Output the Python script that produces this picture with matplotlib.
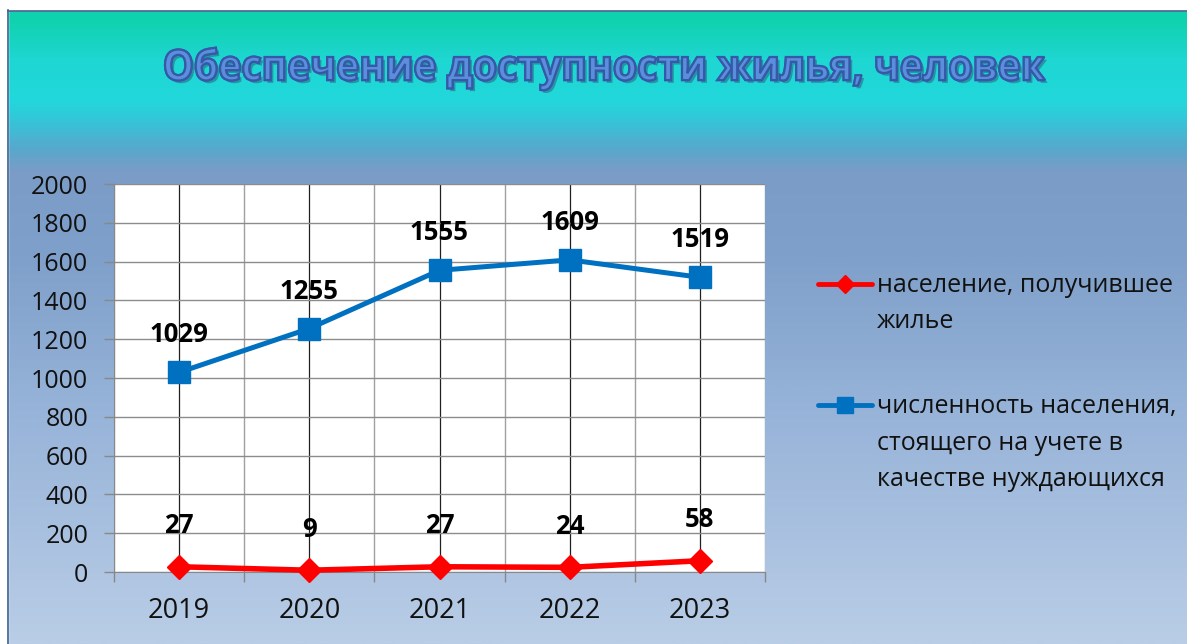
import numpy as np
import matplotlib
matplotlib.use("Agg")
import matplotlib.pyplot as plt
import matplotlib.patheffects as pe
from matplotlib.colors import LinearSegmentedColormap
from matplotlib.lines import Line2D
from matplotlib.textpath import TextPath
from matplotlib.patches import PathPatch
from matplotlib.font_manager import FontProperties
from matplotlib.transforms import Affine2D, IdentityTransform

plt.rcParams['font.family'] = ['Open Sans', 'DejaVu Sans']

years = ['2019', '2020', '2021', '2022', '2023']
received = [27, 9, 27, 24, 58]
waiting = [1029, 1255, 1555, 1609, 1519]
label_received = 'население, получившее\nжилье'
label_waiting = 'численность населения,\nстоящего на учете в\nкачестве нуждающихся'
title = 'Обеспечение доступности жилья, человек'

W, H = 1187, 644
fig = plt.figure(figsize=(W / 100, H / 100), dpi=100)

# background gradient
bg = fig.add_axes([0, 0, 1, 1])
bg.set_axis_off()
stops = [(0.0, '#0fd0ac'), (0.03, '#10d2ae'), (0.09, '#1ed6d2'), (0.155, '#22d8dc'),
         (0.19, '#38c2d8'), (0.23, '#58a8cc'), (0.265, '#7a9cc6'), (0.40, '#7fa0ca'),
         (0.65, '#98b4d9'), (1.0, '#b9cde6')]
cmap = LinearSegmentedColormap.from_list('bg', stops)
grad = np.linspace(0, 1, 800).reshape(-1, 1)
bg.imshow(grad, aspect='auto', cmap=cmap, extent=[0, 1, 0, 1], origin='upper')
bg.set_xlim(0, 1)
bg.set_ylim(0, 1)
bg.add_patch(plt.Rectangle((0, 1 - 10 / H), 1, 10 / H, color='white', zorder=3))
bg.add_patch(plt.Rectangle((0, 0), 8 / W, 1, color='white', zorder=3))
bg.plot([8 / W, 8 / W], [0, 1 - 10 / H], color='#3a5f8f', lw=1.2, zorder=4)
bg.plot([8 / W, 1], [1 - 10.5 / H, 1 - 10.5 / H], color='#4a6090', lw=1.2, zorder=4)

# title: a text path stretched to the tall, narrow look of the original
fp = FontProperties(family='Open Sans', weight='bold')
tp = TextPath((0, 0), title, size=100, prop=fp)
o_path = TextPath((0, 0), title[0], size=100, prop=fp)
ext = tp.get_extents()
oext = o_path.get_extents()
title_left, title_right = 165, 1045
cap_px, cap_center_from_top = 31, 65
sx = (title_right - title_left) / ext.width
sy = cap_px / oext.height
tx = title_left - ext.x0 * sx
ty = (H - cap_center_from_top) - (oext.y0 + oext.height / 2) * sy
tr = Affine2D().scale(sx, sy).translate(tx, ty) + IdentityTransform()
title_patch = PathPatch(tp, transform=tr, facecolor='#5b8fdc', edgecolor='#3559a8',
                        lw=1.6, zorder=10,
                        path_effects=[pe.withSimplePatchShadow(offset=(2, -2),
                                                               shadow_rgbFace='#2a4a6a',
                                                               alpha=0.45),
                                      pe.Normal()])
fig.add_artist(title_patch)

ax = fig.add_axes([114 / W, 1 - 572 / H, (765 - 114) / W, (572 - 184) / H])
ax.set_facecolor('white')
x = np.arange(len(years))
ax.set_xlim(-0.5, len(years) - 0.5)
ax.set_ylim(0, 2000)
ax.set_yticks(np.arange(0, 2001, 200))
ax.tick_params(axis='y', labelsize=18, length=7.5, color='#888888', width=1, pad=11)
ax.set_xticks(np.arange(-0.5, len(years), 1.0))
ax.set_xticklabels([])
ax.set_xticks(x, minor=True)
ax.set_xticklabels(years, minor=True)
ax.tick_params(axis='x', which='major', length=7.5, color='#888888', width=1)
ax.tick_params(axis='x', which='minor', length=0, labelsize=19.5, pad=18)
ax.grid(axis='y', color='#8c8c8c', lw=1)
ax.grid(axis='x', which='major', color='#a0a0a0', lw=1)
ax.grid(axis='x', which='minor', color='#202020', lw=0.9)
ax.set_axisbelow(True)
for s in ['top', 'right']:
    ax.spines[s].set_visible(False)
for s in ['left', 'bottom']:
    ax.spines[s].set_color('#888888')
for lbl in ax.get_yticklabels() + ax.get_xticklabels(minor=True):
    lbl.set_color('#111111')

red, blue = '#ff0000', '#0070c0'
ax.plot(x, received, color=red, lw=4, marker='D', markersize=12,
        zorder=5, clip_on=False)
ax.plot(x, waiting, color=blue, lw=3.6, marker='s', markersize=15.5,
        zorder=5, clip_on=False)

for xi, v in zip(x, received):
    ax.annotate(str(v), (xi, v), xytext=(0, 29.5), textcoords='offset points',
                ha='center', va='center', fontsize=18.5, fontweight='bold', color='black')
for xi, v in zip(x, waiting):
    ax.annotate(str(v), (xi, v), xytext=(0, 27), textcoords='offset points',
                ha='center', va='center', fontsize=18.5, fontweight='bold', color='black')

# legend, drawn by hand to match the original layout
def legend_entry(y_px, color, marker, ms, label):
    yy = 1 - y_px / H
    bg.add_line(Line2D([818 / W, 872 / W], [yy, yy], color=color, lw=3.5,
                       solid_capstyle='round', zorder=5))
    bg.add_line(Line2D([845 / W], [yy], color=color, marker=marker, markersize=ms,
                       lw=0, zorder=6))
    for i, line in enumerate(label.split('\n')):
        fig.text(877 / W, 1 - (y_px + 1 + 37 * i) / H, line, ha='left', va='center',
                 fontsize=18, color='#111111')

legend_entry(284, red, 'D', 9, label_received)
legend_entry(405, blue, 's', 11, label_waiting)

fig.savefig('out.png', dpi=100)
